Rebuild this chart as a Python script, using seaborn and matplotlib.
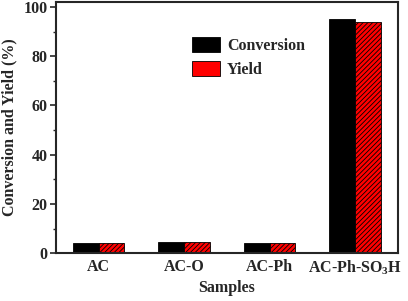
#! /usr/bin/env python3
# Conversion and yield per catalyst sample, grouped bars
import matplotlib
matplotlib.use('Agg')
import matplotlib.pyplot as plt
from matplotlib.ticker import MultipleLocator
import pandas as pd
import seaborn as sns

# data
samples = ['AC', 'AC-O', 'AC-Ph', r'AC-Ph-SO$_\mathbf{3}$H']
conversion = [4.3, 4.7, 4.2, 95.2]
yield_ = [4.2, 4.6, 4.1, 93.9]
series = ['Conversion', 'Yield']

# settings
sns.set_style('ticks')
plt.rcParams['font.family'] = ['Liberation Serif', 'DejaVu Serif']
plt.rcParams['font.weight'] = 'bold'
plt.rcParams['mathtext.fontset'] = 'custom'
plt.rcParams['mathtext.rm'] = 'Liberation Serif:bold'
plt.rcParams['mathtext.bf'] = 'Liberation Serif:bold'
plt.rcParams['hatch.linewidth'] = 0.6
pal = {'Conversion': '#000000', 'Yield': '#ff0000'}

df = pd.DataFrame({
    'Samples': samples * 2,
    'value': conversion + yield_,
    'series': [series[0]] * len(samples) + [series[1]] * len(samples),
})

fig = plt.figure(figsize=(4.08, 3.01), dpi=100)
ax = fig.add_axes([0.137, 0.159, 0.838, 0.834])
sns.barplot(data=df, x='Samples', y='value', hue='series', palette=pal,
            width=0.6, saturation=1, edgecolor='black', linewidth=0.6, ax=ax)

# hatch the yield bars
for cont, lab in zip(ax.containers, series):
    if lab == 'Yield':
        for p in cont:
            p.set_hatch('///////')

ax.set_xlim(-0.5, 3.5)
ax.set_ylim(0, 102)
ax.yaxis.set_major_locator(MultipleLocator(20))
ax.yaxis.set_minor_locator(MultipleLocator(10))
ax.tick_params(axis='y', which='major', length=4, width=1.2, labelsize=11.5, pad=2)
ax.tick_params(axis='y', which='minor', length=2.5, width=1.0)
ax.tick_params(axis='x', length=0, labelsize=11.5, pad=4)
for s in ax.spines.values():
    s.set_linewidth(1.5)
    s.set_visible(True)
ax.set_xlabel('Samples', fontsize=11.5, fontweight='bold', labelpad=2)
ax.set_ylabel('Conversion and Yield (%)', fontsize=11.5, fontweight='bold', labelpad=4)

h, l = ax.get_legend_handles_labels()
for hh in h:
    hh.set_edgecolor('black')
leg = ax.legend(h, l, loc='upper left', bbox_to_anchor=(0.355, 0.92), frameon=False,
                prop={'family': 'Liberation Serif', 'weight': 'bold', 'size': 11.5},
                handlelength=1.8, handleheight=1.1, handletextpad=0.4, labelspacing=0.45)

fig.savefig('out.png', dpi=100)
plt.close()
